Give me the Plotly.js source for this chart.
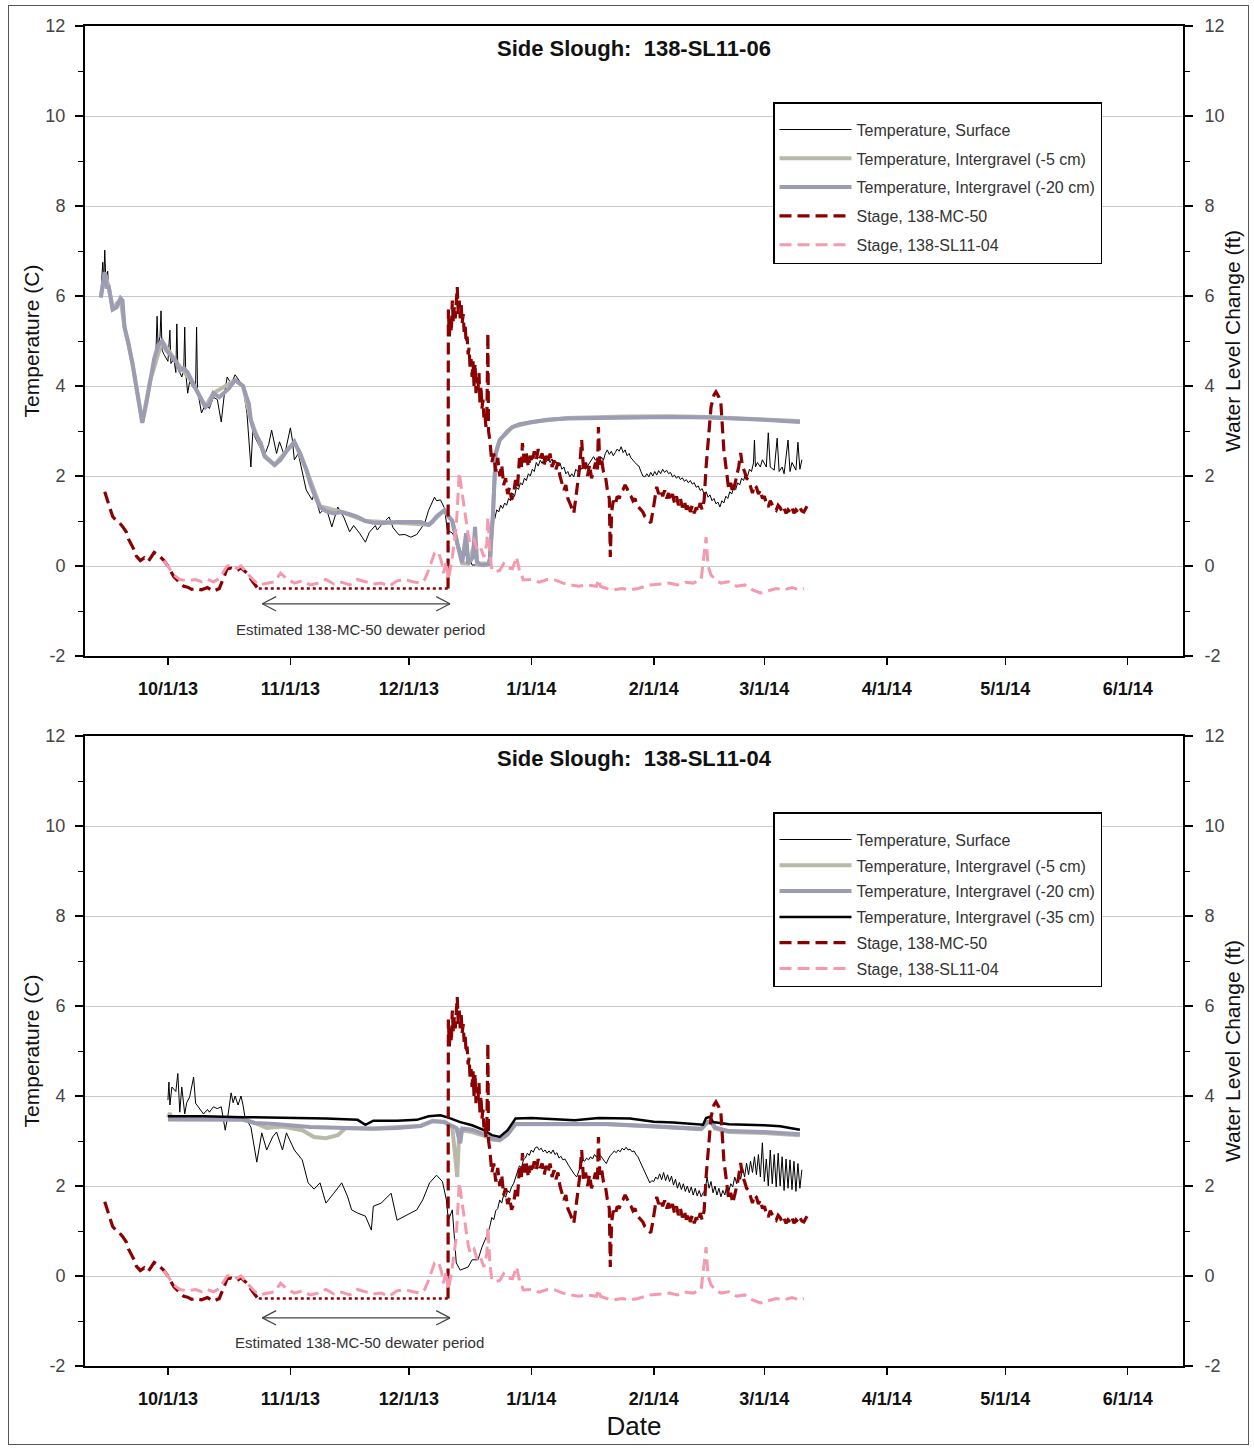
<!DOCTYPE html>
<html>
<head>
<meta charset="utf-8">
<script src="https://cdn.plot.ly/plotly-3.0.1.min.js"></script>
<style>
  html, body { margin:0; padding:0; background:#fff; }
  #wrap { position:relative; width:1254px; height:1449px; }
  #frame { position:absolute; left:8px; top:5px; width:1241px; height:1440px; border:1px solid #555; pointer-events:none; box-sizing:border-box; }
</style>
</head>
<body>
<div id="wrap"><div id="chart"></div><div id="frame"></div></div>
<script>
// ---------------- DATA ----------------
const monthTicks = ['2013-10-01','2013-11-01','2013-12-01','2014-01-01','2014-02-01','2014-03-01','2014-04-01','2014-05-01','2014-06-01'];
const monthLabels = ['10/1/13','11/1/13','12/1/13','1/1/14','2/1/14','3/1/14','4/1/14','5/1/14','6/1/14'];
const dateRange = ['2013-09-10','2014-06-15'];
const yTickVals = [-2,0,2,4,6,8,10,12];
const yTickText = ['-2','0','2','4','6','8','10','12'];
const yMinorVals = [-1,1,3,5,7,9,11];
const dewaterPeriod = ['2013-10-24','2013-12-11 10:00'];
const dewaterLevel = -0.5;

// Stage, 138-MC-50 (ft) – same record in both panels
const mc50Stage = [
 ['2013-09-15',1.65],['2013-09-16',1.35],['2013-09-16 12:00',1.2],['2013-09-17',1.1],['2013-09-18',1.0],['2013-09-18 12:00',0.98],['2013-09-19 12:00',0.88],
 ['2013-09-20 12:00',0.75],['2013-09-21',0.6],['2013-09-22 12:00',0.35],['2013-09-23',0.22],['2013-09-24',0.12],['2013-09-25',0.18],['2013-09-26',0.1],
 ['2013-09-27 12:00',0.3],['2013-09-28 12:00',0.25],['2013-09-30',0.12],['2013-10-01',0.0],['2013-10-02 12:00',-0.24],
 ['2013-10-04',-0.38],['2013-10-05',-0.45],['2013-10-06',-0.47],['2013-10-07',-0.52],['2013-10-08',-0.5],['2013-10-09 12:00',-0.53],['2013-10-11',-0.48],
 ['2013-10-12 12:00',-0.56],['2013-10-14',-0.5],['2013-10-15',-0.3],['2013-10-16',-0.06],['2013-10-17',-0.05],
 ['2013-10-18 12:00',-0.1],['2013-10-19 12:00',-0.04],['2013-10-21',-0.16],['2013-10-22 12:00',-0.35],['2013-10-23 18:00',-0.5],
 ['2013-10-24',null],
 ['2013-12-10 22:00',-0.5],['2013-12-11',5.7],['2013-12-11 06:00',5.1],['2013-12-11 12:00',5.5],['2013-12-11 18:00',5.2],
 ['2013-12-12',5.9],['2013-12-12 06:00',5.4],['2013-12-12 12:00',5.75],['2013-12-12 18:00',5.5],['2013-12-13',6.0],
 ['2013-12-13 06:00',6.2],['2013-12-13 12:00',5.6],['2013-12-13 18:00',5.9],['2013-12-14',5.5],['2013-12-14 06:00',5.8],
 ['2013-12-14 12:00',5.4],['2013-12-14 18:00',5.6],['2013-12-15',5.2],['2013-12-15 06:00',5.35],['2013-12-15 12:00',4.96],
 ['2013-12-15 18:00',5.1],['2013-12-16',4.7],['2013-12-16 06:00',4.85],['2013-12-16 12:00',4.4],['2013-12-16 18:00',4.6],
 ['2013-12-17',4.2],['2013-12-17 06:00',4.55],['2013-12-17 12:00',4.0],['2013-12-17 18:00',4.5],['2013-12-18',3.84],
 ['2013-12-18 06:00',4.2],['2013-12-18 12:00',3.9],['2013-12-18 18:00',4.29],['2013-12-19',3.6],['2013-12-19 06:00',4.0],
 ['2013-12-19 12:00',3.5],['2013-12-19 18:00',3.7],['2013-12-20',3.3],['2013-12-20 06:00',3.4],['2013-12-20 12:00',3.09],
 ['2013-12-20 18:00',3.3],['2013-12-21',5.18],['2013-12-21 04:00',3.0],['2013-12-21 12:00',2.8],
 ['2013-12-22',2.3],['2013-12-22 12:00',2.5],['2013-12-23',2.1],['2013-12-23 12:00',2.4],['2013-12-24',2.0],
 ['2013-12-24 12:00',2.25],['2013-12-25',1.8],['2013-12-25 12:00',1.95],['2013-12-26',1.6],['2013-12-26 12:00',1.75],
 ['2013-12-27',1.47],['2013-12-27 12:00',1.6],['2013-12-28',1.91],['2013-12-28 12:00',1.75],['2013-12-29',2.4],
 ['2013-12-29 12:00',2.2],['2013-12-29 18:00',2.73],['2013-12-30 06:00',2.3],['2013-12-30 18:00',2.5],['2013-12-31 06:00',2.2],
 ['2013-12-31 18:00',2.45],['2014-01-01 06:00',2.3],['2014-01-01 18:00',2.55],['2014-01-02 06:00',2.35],['2014-01-02 18:00',2.6],
 ['2014-01-03 06:00',2.4],['2014-01-03 18:00',2.5],['2014-01-04 06:00',2.25],['2014-01-04 18:00',2.45],['2014-01-05 06:00',2.3],
 ['2014-01-05 18:00',2.5],['2014-01-06 06:00',2.2],['2014-01-06 18:00',2.35],['2014-01-07 06:00',2.15],['2014-01-07 18:00',2.3],
 ['2014-01-08 06:00',2.0],['2014-01-08 18:00',1.85],['2014-01-09 06:00',1.69],['2014-01-09 18:00',1.8],['2014-01-10 06:00',1.5],
 ['2014-01-10 18:00',1.4],['2014-01-11 06:00',1.3],['2014-01-11 18:00',1.17],['2014-01-12 06:00',1.5],['2014-01-12 18:00',1.9],
 ['2014-01-13 06:00',2.2],['2014-01-13 18:00',2.8],['2014-01-14 06:00',2.1],['2014-01-14 18:00',2.3],['2014-01-15 06:00',2.0],
 ['2014-01-15 18:00',2.25],['2014-01-16 06:00',1.95],['2014-01-16 18:00',2.1],['2014-01-17 06:00',2.3],['2014-01-17 18:00',2.1],
 ['2014-01-18',3.09],['2014-01-18 08:00',2.25],['2014-01-18 18:00',2.4],['2014-01-19 06:00',2.1],['2014-01-19 18:00',2.0],
 ['2014-01-20 06:00',1.7],['2014-01-20 18:00',1.5],['2014-01-21',0.2],['2014-01-21 08:00',1.2],['2014-01-21 18:00',1.45],
 ['2014-01-22 06:00',1.35],['2014-01-22 18:00',1.55],['2014-01-23 06:00',1.5],['2014-01-23 18:00',1.65],['2014-01-24 06:00',1.7],
 ['2014-01-24 18:00',1.8],['2014-01-25 06:00',1.72],['2014-01-25 18:00',1.6],['2014-01-26 06:00',1.55],['2014-01-26 18:00',1.45],
 ['2014-01-27 06:00',1.5],['2014-01-27 18:00',1.35],['2014-01-28 06:00',1.3],['2014-01-28 18:00',1.25],['2014-01-29 06:00',1.2],
 ['2014-01-29 18:00',1.1],['2014-01-30 06:00',1.05],['2014-01-30 18:00',1.0],['2014-01-31 06:00',0.96],['2014-01-31 18:00',1.2],
 ['2014-02-01 06:00',1.5],['2014-02-01 18:00',1.76],['2014-02-02 06:00',1.6],['2014-02-02 18:00',1.7],['2014-02-03 06:00',1.55],
 ['2014-02-03 18:00',1.68],['2014-02-04 06:00',1.5],['2014-02-04 18:00',1.62],['2014-02-05 06:00',1.45],['2014-02-05 18:00',1.6],
 ['2014-02-06 06:00',1.4],['2014-02-06 18:00',1.55],['2014-02-07 06:00',1.35],['2014-02-07 18:00',1.5],['2014-02-08 06:00',1.3],
 ['2014-02-08 18:00',1.45],['2014-02-09 06:00',1.25],['2014-02-09 18:00',1.4],['2014-02-10 06:00',1.2],['2014-02-10 18:00',1.35],
 ['2014-02-11 06:00',1.17],['2014-02-11 18:00',1.3],['2014-02-12 06:00',1.2],['2014-02-12 18:00',1.4],['2014-02-13 06:00',1.25],
 ['2014-02-13 18:00',1.45],['2014-02-14 06:00',2.2],['2014-02-15',3.0],['2014-02-15 12:00',3.53],['2014-02-16 06:00',3.8],
 ['2014-02-16 18:00',3.87],['2014-02-17 12:00',3.75],['2014-02-18',3.62],['2014-02-18 18:00',2.58],['2014-02-19 12:00',2.0],
 ['2014-02-20',1.69],['2014-02-20 12:00',1.85],['2014-02-21',1.62],['2014-02-21 12:00',1.8],['2014-02-22',2.0],
 ['2014-02-22 12:00',2.2],['2014-02-23',2.51],['2014-02-23 12:00',2.2],['2014-02-24',2.1],['2014-02-24 12:00',1.95],
 ['2014-02-25',1.91],['2014-02-25 12:00',1.75],['2014-02-26',1.62],['2014-02-26 12:00',1.8],['2014-02-27',1.75],
 ['2014-02-27 12:00',1.6],['2014-02-28',1.69],['2014-02-28 12:00',1.5],['2014-03-01',1.55],['2014-03-01 12:00',1.4],
 ['2014-03-02',1.31],['2014-03-02 12:00',1.45],['2014-03-03',1.35],['2014-03-03 12:00',1.28],['2014-03-04',1.24],
 ['2014-03-04 12:00',1.35],['2014-03-05',1.3],['2014-03-05 12:00',1.2],['2014-03-06',1.28],['2014-03-06 12:00',1.17],
 ['2014-03-07',1.25],['2014-03-07 12:00',1.2],['2014-03-08',1.3],['2014-03-08 12:00',1.17],['2014-03-09',1.25],
 ['2014-03-09 12:00',1.2],['2014-03-10',1.3],['2014-03-10 12:00',1.22],['2014-03-11',1.2],['2014-03-11 12:00',1.3],
 ['2014-03-12',1.36]
];

// Stage, 138-SL11-04 (ft) – same record in both panels
const sl1104Stage = [
 ['2013-09-30',0.12],['2013-10-01',0.0],['2013-10-02 12:00',-0.2],['2013-10-04',-0.3],['2013-10-06',-0.33],
 ['2013-10-08',-0.3],['2013-10-09 12:00',-0.35],['2013-10-11',-0.3],['2013-10-12 12:00',-0.35],['2013-10-14',-0.28],
 ['2013-10-15',-0.15],['2013-10-16',0.0],['2013-10-17',0.02],['2013-10-18 12:00',-0.05],['2013-10-19 12:00',0.0],
 ['2013-10-21',-0.15],['2013-10-22 12:00',-0.3],['2013-10-24',-0.42],['2013-10-26',-0.38],['2013-10-28',-0.35],
 ['2013-10-29 12:00',-0.16],['2013-10-31',-0.28],['2013-11-02',-0.38],['2013-11-04',-0.33],['2013-11-06',-0.42],
 ['2013-11-08',-0.38],['2013-11-10',-0.3],['2013-11-12',-0.4],['2013-11-14',-0.36],['2013-11-16',-0.42],
 ['2013-11-18',-0.3],['2013-11-20',-0.35],['2013-11-22',-0.4],['2013-11-24',-0.38],['2013-11-26',-0.45],
 ['2013-11-28',-0.33],['2013-11-30',-0.3],['2013-12-02',-0.35],['2013-12-04',-0.38],['2013-12-05',-0.3],
 ['2013-12-06',-0.09],['2013-12-07 12:00',0.29],['2013-12-08 12:00',0.31],['2013-12-09 06:00',0.1],['2013-12-09 18:00',-0.16],
 ['2013-12-10 12:00',0.1],['2013-12-11',-0.31],['2013-12-12',0.2],['2013-12-13',0.87],['2013-12-13 18:00',2.07],
 ['2013-12-14 12:00',1.6],['2013-12-15 06:00',1.2],['2013-12-16',0.7],['2013-12-16 12:00',0.51],['2013-12-17 12:00',0.6],
 ['2013-12-18 06:00',0.38],['2013-12-19',0.45],['2013-12-20',0.2],['2013-12-20 18:00',0.5],['2013-12-21',1.09],
 ['2013-12-21 12:00',0.3],['2013-12-22',-0.09],['2013-12-23',-0.12],['2013-12-24',-0.1],['2013-12-25',0.05],
 ['2013-12-26',-0.05],['2013-12-27 06:00',-0.06],['2013-12-28 06:00',0.2],['2013-12-29',-0.1],['2013-12-30',-0.31],
 ['2014-01-01',-0.3],['2014-01-03',-0.36],['2014-01-05',-0.3],['2014-01-07',-0.31],['2014-01-09',-0.38],
 ['2014-01-11',-0.42],['2014-01-13',-0.45],['2014-01-15',-0.42],['2014-01-17 12:00',-0.45],['2014-01-18',-0.3],
 ['2014-01-18 12:00',-0.45],['2014-01-20',-0.5],['2014-01-22',-0.53],['2014-01-24',-0.5],['2014-01-26',-0.53],
 ['2014-01-28',-0.5],['2014-01-31',-0.42],['2014-02-03',-0.4],['2014-02-05',-0.38],['2014-02-07',-0.42],
 ['2014-02-09',-0.36],['2014-02-11',-0.38],['2014-02-13',-0.3],['2014-02-14 06:00',0.64],['2014-02-14 18:00',0.0],
 ['2014-02-15 12:00',-0.2],['2014-02-17',-0.33],['2014-02-18',-0.38],['2014-02-20',-0.35],['2014-02-22',-0.45],
 ['2014-02-24',-0.42],['2014-02-26',-0.53],['2014-02-28',-0.6],['2014-03-02',-0.55],['2014-03-04',-0.5],
 ['2014-03-06',-0.53],['2014-03-08',-0.48],['2014-03-10',-0.53],['2014-03-11',-0.5]
];

// ---- Panel 1: 138-SL11-06 temperatures (C)
const sl1106Surface = [
 ['2013-09-14',6.0],['2013-09-14 12:00',6.75],['2013-09-14 18:00',6.3],['2013-09-15',7.02],['2013-09-15 06:00',6.4],
 ['2013-09-15 18:00',6.55],['2013-09-16',6.1],['2013-09-17',5.7],['2013-09-18',5.8],['2013-09-19',5.95],
 ['2013-09-20',5.35],['2013-09-21',4.9],['2013-09-22',4.45],['2013-09-23',3.95],['2013-09-24',3.45],
 ['2013-09-24 12:00',3.2],['2013-09-25 12:00',3.65],['2013-09-26 12:00',4.15],['2013-09-27 12:00',4.65],['2013-09-28',4.85],
 ['2013-09-28 06:00',5.55],['2013-09-28 12:00',4.9],['2013-09-29',5.1],['2013-09-29 06:00',5.67],['2013-09-29 12:00',4.8],
 ['2013-09-30',4.7],['2013-10-01',4.55],['2013-10-01 12:00',5.24],['2013-10-01 18:00',4.5],['2013-10-02 12:00',4.6],
 ['2013-10-03',4.3],['2013-10-03 06:00',5.38],['2013-10-03 12:00',4.4],['2013-10-04 12:00',4.2],['2013-10-05',4.35],
 ['2013-10-05 06:00',5.31],['2013-10-05 12:00',4.3],['2013-10-06',3.84],['2013-10-06 12:00',4.1],['2013-10-07 12:00',3.95],
 ['2013-10-08',4.0],['2013-10-08 06:00',5.31],['2013-10-08 12:00',3.9],['2013-10-09',3.62],['2013-10-09 12:00',3.4],
 ['2013-10-10 12:00',3.6],['2013-10-11 12:00',3.5],['2013-10-12 12:00',3.75],['2013-10-13 12:00',3.7],['2013-10-14 12:00',3.2],
 ['2013-10-15 06:00',3.8],['2013-10-16',4.2],['2013-10-17',4.05],['2013-10-18',4.25],['2013-10-19',4.13],
 ['2013-10-20',4.0],['2013-10-21',3.4],['2013-10-22',2.2],['2013-10-22 12:00',3.0],['2013-10-23',2.87],
 ['2013-10-24 12:00',2.6],['2013-10-25 06:00',2.42],['2013-10-26 12:00',2.7],['2013-10-27 06:00',3.02],['2013-10-28 12:00',2.5],
 ['2013-10-29 06:00',2.76],['2013-10-30 12:00',2.45],['2013-11-01',3.07],['2013-11-01 12:00',2.8],['2013-11-02',2.36],
 ['2013-11-03',2.5],['2013-11-04',2.13],['2013-11-05',1.69],['2013-11-06 12:00',1.47],['2013-11-07',1.6],
 ['2013-11-08 12:00',1.17],['2013-11-10',1.31],['2013-11-11 12:00',0.87],['2013-11-13',1.31],['2013-11-14 12:00',1.09],
 ['2013-11-16',0.76],['2013-11-17',0.9],['2013-11-18 12:00',0.73],['2013-11-20',0.53],['2013-11-21',0.75],
 ['2013-11-22 12:00',0.9],['2013-11-23',0.8],['2013-11-24',0.91],['2013-11-26',1.09],['2013-11-27',0.85],
 ['2013-11-28 12:00',0.69],['2013-11-30',0.7],['2013-12-01 12:00',0.64],['2013-12-03',0.7],['2013-12-04 06:00',0.87],
 ['2013-12-05',0.95],['2013-12-06',1.24],['2013-12-07 12:00',1.53],['2013-12-08',1.45],['2013-12-09',1.47],
 ['2013-12-10',1.29],['2013-12-10 18:00',0.8],['2013-12-12',0.73],['2013-12-13',0.58],['2013-12-14 18:00',0.2],
 ['2013-12-16',0.3],['2013-12-17',0.02],['2013-12-19',0.03],['2013-12-21',0.04],['2013-12-22 06:00',1.17],
 ['2013-12-22 18:00',1.05],['2013-12-23 06:00',1.25],['2013-12-23 18:00',1.2],['2013-12-24 06:00',1.35],['2013-12-24 18:00',1.28],
 ['2013-12-25 06:00',1.4],['2013-12-25 18:00',1.35],['2013-12-26 06:00',1.5],['2013-12-26 18:00',1.45],['2013-12-27 06:00',1.62],
 ['2013-12-27 18:00',1.55],['2013-12-28 06:00',1.75],['2013-12-28 18:00',1.7],['2013-12-29 06:00',1.85],['2013-12-29 18:00',1.8],
 ['2013-12-30 06:00',1.95],['2013-12-30 18:00',1.9],['2013-12-31 06:00',2.05],['2013-12-31 18:00',2.0],['2014-01-01 06:00',2.15],
 ['2014-01-01 18:00',2.1],['2014-01-02 06:00',2.3],['2014-01-02 18:00',2.22],['2014-01-03 06:00',2.35],['2014-01-03 18:00',2.28],
 ['2014-01-04 06:00',2.4],['2014-01-04 18:00',2.32],['2014-01-05 06:00',2.36],['2014-01-05 18:00',2.3],['2014-01-06 06:00',2.38],
 ['2014-01-06 18:00',2.25],['2014-01-07 06:00',2.32],['2014-01-07 18:00',2.22],['2014-01-08 06:00',2.29],['2014-01-08 18:00',2.15],
 ['2014-01-09 06:00',2.2],['2014-01-09 18:00',2.05],['2014-01-10 06:00',2.1],['2014-01-10 18:00',1.98],['2014-01-11 06:00',2.05],
 ['2014-01-11 18:00',1.98],['2014-01-12 06:00',2.15],['2014-01-12 18:00',2.1],['2014-01-13 06:00',2.22],['2014-01-13 18:00',2.15],
 ['2014-01-14 06:00',2.25],['2014-01-14 18:00',2.15],['2014-01-15 06:00',2.22],['2014-01-15 18:00',2.3],['2014-01-16 06:00',2.38],
 ['2014-01-16 18:00',2.43],['2014-01-17 06:00',2.35],['2014-01-17 18:00',2.4],['2014-01-18 06:00',2.3],['2014-01-18 18:00',2.42],
 ['2014-01-19 06:00',2.35],['2014-01-19 18:00',2.5],['2014-01-20 06:00',2.58],['2014-01-20 18:00',2.48],['2014-01-21 06:00',2.55],
 ['2014-01-21 18:00',2.45],['2014-01-22 06:00',2.52],['2014-01-22 18:00',2.6],['2014-01-23 06:00',2.55],['2014-01-23 18:00',2.65],
 ['2014-01-24 06:00',2.52],['2014-01-24 18:00',2.58],['2014-01-25 06:00',2.45],['2014-01-25 18:00',2.5],['2014-01-26 06:00',2.4],
 ['2014-01-26 18:00',2.36],['2014-01-27 06:00',2.3],['2014-01-27 18:00',2.25],['2014-01-28 06:00',2.22],['2014-01-28 18:00',2.1],
 ['2014-01-29 06:00',2.0],['2014-01-29 18:00',1.98],['2014-01-30 06:00',2.05],['2014-01-30 18:00',1.98],['2014-01-31 06:00',2.08],
 ['2014-01-31 18:00',2.0],['2014-02-01 06:00',2.1],['2014-02-01 18:00',2.02],['2014-02-02 06:00',2.12],['2014-02-02 18:00',2.05],
 ['2014-02-03 06:00',2.15],['2014-02-03 18:00',2.08],['2014-02-04 06:00',2.13],['2014-02-04 18:00',2.05],['2014-02-05 06:00',2.08],
 ['2014-02-05 18:00',1.98],['2014-02-06 06:00',2.02],['2014-02-06 18:00',1.95],['2014-02-07 06:00',2.0],['2014-02-07 18:00',1.92],
 ['2014-02-08 06:00',1.96],['2014-02-08 18:00',1.88],['2014-02-09 06:00',1.92],['2014-02-09 18:00',1.85],['2014-02-10 06:00',1.9],
 ['2014-02-10 18:00',1.82],['2014-02-11 06:00',1.85],['2014-02-11 18:00',1.75],['2014-02-12 06:00',1.78],['2014-02-12 18:00',1.68],
 ['2014-02-13 06:00',1.72],['2014-02-13 18:00',1.6],['2014-02-14 06:00',1.65],['2014-02-14 18:00',1.53],['2014-02-15 06:00',1.58],
 ['2014-02-15 18:00',1.45],['2014-02-16 06:00',1.5],['2014-02-16 18:00',1.38],['2014-02-17 06:00',1.42],['2014-02-17 18:00',1.31],
 ['2014-02-18 06:00',1.45],['2014-02-18 18:00',1.4],['2014-02-19 06:00',1.55],['2014-02-19 18:00',1.5],['2014-02-20 06:00',1.65],
 ['2014-02-20 18:00',1.6],['2014-02-21 06:00',1.75],['2014-02-21 18:00',1.7],['2014-02-22 06:00',1.85],['2014-02-22 18:00',1.8],
 ['2014-02-23 06:00',1.95],['2014-02-23 18:00',1.9],['2014-02-24 06:00',2.05],['2014-02-24 18:00',2.0],['2014-02-25 06:00',2.15],
 ['2014-02-25 18:00',2.1],['2014-02-26 06:00',2.29],['2014-02-26 12:00',2.8],['2014-02-26 18:00',2.2],['2014-02-27 06:00',2.3],
 ['2014-02-28',2.2],['2014-02-28 12:00',2.36],['2014-03-01 12:00',2.2],['2014-03-02',2.96],['2014-03-02 12:00',2.2],
 ['2014-03-03 12:00',2.13],['2014-03-04 06:00',2.84],['2014-03-04 18:00',2.1],['2014-03-05 12:00',2.2],['2014-03-06',2.05],
 ['2014-03-07',2.8],['2014-03-07 12:00',2.1],['2014-03-08',2.3],['2014-03-09',2.13],['2014-03-09 12:00',2.75],
 ['2014-03-10',2.15],['2014-03-10 12:00',2.36]
];
const sl1106Ig5 = [
 ['2013-09-14',5.98],['2013-09-15',6.5],['2013-09-16',6.22],['2013-09-17',5.72],['2013-09-19',5.93],
 ['2013-09-20',5.32],['2013-09-22',4.52],['2013-09-24 12:00',3.2],['2013-09-26 12:00',4.12],['2013-09-29 12:00',5.0],
 ['2013-10-03',4.55],['2013-10-07',4.1],['2013-10-10 12:00',3.55],['2013-10-12 12:00',3.84],['2013-10-18',4.13],
 ['2013-10-20',4.0],['2013-10-22',3.24],['2013-10-25 12:00',2.45],['2013-10-28',2.25],['2013-11-02',2.76],
 ['2013-11-05',2.15],['2013-11-08 12:00',1.33],['2013-11-14',1.2],['2013-11-20',1.0],['2013-11-26',0.97],
 ['2013-12-06',0.92],['2013-12-10',1.24],['2013-12-12',1.0],['2013-12-13 06:00',0.5],['2013-12-14 12:00',0.06],
 ['2013-12-16',0.05],['2013-12-17 18:00',0.5],['2013-12-18 06:00',0.06],['2013-12-21 12:00',0.05],['2013-12-22 06:00',1.09],
 ['2013-12-23',2.51],['2013-12-24',2.8],['2013-12-27 06:00',3.09],['2014-01-01',3.2],['2014-01-10',3.29],
 ['2014-01-25',3.32],['2014-02-05',3.33],['2014-02-15',3.31],['2014-02-25',3.28],['2014-03-10',3.22]
];
const sl1106Ig20 = [
 ['2013-09-14',5.96],['2013-09-15',6.53],['2013-09-15 12:00',6.2],['2013-09-16',6.2],['2013-09-17',5.7],
 ['2013-09-18',5.75],['2013-09-19',5.95],['2013-09-19 12:00',5.9],['2013-09-20',5.3],['2013-09-21',4.95],
 ['2013-09-22',4.5],['2013-09-23',4.0],['2013-09-24',3.5],['2013-09-24 12:00',3.18],['2013-09-25 12:00',3.6],
 ['2013-09-26 12:00',4.1],['2013-09-27 12:00',4.6],['2013-09-28 12:00',4.9],['2013-09-29 12:00',5.0],['2013-09-30 12:00',4.8],
 ['2013-10-02',4.65],['2013-10-03',4.55],['2013-10-04',4.35],['2013-10-05',4.4],['2013-10-06',4.3],
 ['2013-10-07',4.1],['2013-10-08',3.95],['2013-10-09 12:00',3.69],['2013-10-10 12:00',3.53],['2013-10-11 12:00',3.6],
 ['2013-10-12 12:00',3.84],['2013-10-14',3.75],['2013-10-15 12:00',3.87],['2013-10-16 12:00',3.95],['2013-10-18',4.13],
 ['2013-10-19 12:00',4.05],['2013-10-20',4.0],['2013-10-21 12:00',3.6],['2013-10-22',3.24],['2013-10-23',2.95],
 ['2013-10-24 12:00',2.73],['2013-10-25 12:00',2.43],['2013-10-27',2.3],['2013-10-28',2.24],['2013-10-29 12:00',2.36],
 ['2013-10-31',2.55],['2013-11-01 12:00',2.7],['2013-11-02',2.76],['2013-11-03 12:00',2.5],['2013-11-05',2.15],
 ['2013-11-06',1.84],['2013-11-07',1.6],['2013-11-08 12:00',1.31],['2013-11-10',1.22],['2013-11-12',1.17],
 ['2013-11-14',1.2],['2013-11-16',1.15],['2013-11-18',1.09],['2013-11-20',1.0],['2013-11-22',0.96],
 ['2013-11-24',0.95],['2013-11-26',0.97],['2013-11-28',0.98],['2013-12-01',0.98],['2013-12-04',0.98],
 ['2013-12-06',0.91],['2013-12-07',0.98],['2013-12-08',1.1],['2013-12-09',1.17],['2013-12-10',1.24],
 ['2013-12-11',1.1],['2013-12-12',1.0],['2013-12-13 06:00',0.51],['2013-12-14',0.2],['2013-12-14 12:00',0.07],
 ['2013-12-15 12:00',0.73],['2013-12-16',0.05],['2013-12-17 06:00',0.2],['2013-12-17 18:00',0.87],['2013-12-18 06:00',0.1],
 ['2013-12-19',0.03],['2013-12-20',0.02],['2013-12-21',0.03],['2013-12-21 12:00',0.05],['2013-12-21 20:00',0.6],
 ['2013-12-22 06:00',1.09],['2013-12-23',2.51],['2013-12-24',2.8],['2013-12-26',3.0],['2013-12-27 06:00',3.09],
 ['2013-12-29',3.15],['2014-01-01',3.2],['2014-01-05',3.25],['2014-01-10',3.28],['2014-01-15',3.29],
 ['2014-01-25',3.3],['2014-02-05',3.31],['2014-02-15',3.3],['2014-02-25',3.27],['2014-03-03',3.24],['2014-03-10',3.2]
];

// ---- Panel 2: 138-SL11-04 temperatures (C)
const sl1104Surface = [
 ['2013-10-01',3.91],['2013-10-01 06:00',4.31],['2013-10-01 12:00',3.8],['2013-10-02',4.2],['2013-10-03',4.1],
 ['2013-10-03 12:00',4.5],['2013-10-04',3.64],['2013-10-04 12:00',4.2],['2013-10-05 06:00',3.6],['2013-10-05 18:00',3.85],
 ['2013-10-06 12:00',3.98],['2013-10-07 12:00',4.42],['2013-10-08',3.84],['2013-10-09 12:00',3.64],['2013-10-10',3.6],
 ['2013-10-11',3.7],['2013-10-11 12:00',3.64],['2013-10-12 12:00',3.76],['2013-10-13 12:00',3.72],['2013-10-14 12:00',3.76],
 ['2013-10-15 12:00',3.24],['2013-10-16 06:00',3.6],['2013-10-17',4.07],['2013-10-17 12:00',3.85],['2013-10-18',4.0],
 ['2013-10-18 18:00',3.8],['2013-10-19 12:00',4.0],['2013-10-20',3.8],['2013-10-20 12:00',3.53],['2013-10-22',3.31],
 ['2013-10-23',2.8],['2013-10-23 12:00',2.53],['2013-10-24 18:00',3.18],['2013-10-26',2.8],['2013-10-27 12:00',3.09],
 ['2013-10-28 12:00',3.2],['2013-10-30',2.8],['2013-10-31',3.18],['2013-11-02',2.8],['2013-11-04',2.58],
 ['2013-11-05 12:00',2.07],['2013-11-07',1.93],['2013-11-08 12:00',2.07],['2013-11-10',1.62],['2013-11-12',1.84],
 ['2013-11-14',2.07],['2013-11-15 12:00',1.76],['2013-11-16 12:00',1.47],['2013-11-18',1.4],['2013-11-20',1.33],
 ['2013-11-21 12:00',1.02],['2013-11-22',1.55],['2013-11-24',1.62],['2013-11-26 12:00',1.84],['2013-11-28',1.24],
 ['2013-11-30',1.33],['2013-12-03',1.47],['2013-12-04 12:00',1.69],['2013-12-06 06:00',2.07],['2013-12-08',2.24],
 ['2013-12-09 12:00',2.1],['2013-12-10 12:00',1.69],['2013-12-11',1.24],['2013-12-12',1.47],['2013-12-13',0.29],
 ['2013-12-14',0.13],['2013-12-16',0.2],['2013-12-17',0.36],['2013-12-18 12:00',0.36],['2013-12-19 12:00',0.64],
 ['2013-12-21',0.95],['2013-12-21 12:00',1.1],['2013-12-22',1.3],['2013-12-22 12:00',1.25],['2013-12-23',1.45],
 ['2013-12-23 12:00',1.5],['2013-12-24',1.69],['2013-12-24 12:00',1.62],['2013-12-25',1.8],['2013-12-25 12:00',1.75],
 ['2013-12-26',1.9],['2013-12-26 12:00',1.85],['2013-12-27',1.98],['2013-12-27 12:00',2.05],['2013-12-28',2.2],
 ['2013-12-28 12:00',2.3],['2013-12-29',2.45],['2013-12-29 12:00',2.4],['2013-12-30',2.58],['2013-12-30 12:00',2.62],
 ['2013-12-31',2.73],['2013-12-31 12:00',2.68],['2014-01-01',2.8],['2014-01-01 12:00',2.75],['2014-01-02',2.85],
 ['2014-01-02 12:00',2.87],['2014-01-03',2.8],['2014-01-03 12:00',2.84],['2014-01-04',2.76],['2014-01-04 12:00',2.8],
 ['2014-01-05',2.73],['2014-01-05 12:00',2.78],['2014-01-06',2.72],['2014-01-06 12:00',2.8],['2014-01-07',2.7],
 ['2014-01-07 12:00',2.74],['2014-01-08',2.62],['2014-01-08 12:00',2.66],['2014-01-09',2.58],['2014-01-09 12:00',2.6],
 ['2014-01-10',2.51],['2014-01-10 12:00',2.45],['2014-01-11',2.38],['2014-01-11 12:00',2.3],['2014-01-12',2.25],
 ['2014-01-12 12:00',2.2],['2014-01-13',2.35],['2014-01-13 12:00',2.45],['2014-01-14',2.58],['2014-01-14 12:00',2.55],
 ['2014-01-15',2.62],['2014-01-15 12:00',2.58],['2014-01-16',2.65],['2014-01-16 12:00',2.6],['2014-01-17',2.7],
 ['2014-01-17 12:00',2.64],['2014-01-18',2.73],['2014-01-18 12:00',2.68],['2014-01-19',2.62],['2014-01-19 12:00',2.55],
 ['2014-01-20',2.5],['2014-01-20 12:00',2.6],['2014-01-21',2.68],['2014-01-21 12:00',2.72],['2014-01-22',2.78],
 ['2014-01-22 12:00',2.74],['2014-01-23',2.8],['2014-01-23 12:00',2.76],['2014-01-24',2.84],['2014-01-24 12:00',2.8],
 ['2014-01-25',2.86],['2014-01-25 12:00',2.8],['2014-01-26',2.82],['2014-01-26 12:00',2.76],['2014-01-27',2.78],
 ['2014-01-27 12:00',2.7],['2014-01-28',2.65],['2014-01-28 12:00',2.55],['2014-01-29',2.45],['2014-01-29 12:00',2.36],
 ['2014-01-30',2.25],['2014-01-30 12:00',2.15],['2014-01-31',2.07],['2014-01-31 12:00',2.12],['2014-02-01',2.1],
 ['2014-02-01 12:00',2.2],['2014-02-02',2.15],['2014-02-02 12:00',2.27],['2014-02-03',2.14],['2014-02-03 12:00',2.3],
 ['2014-02-04',2.12],['2014-02-04 12:00',2.25],['2014-02-05',2.1],['2014-02-05 12:00',2.22],['2014-02-06',2.02],
 ['2014-02-06 12:00',2.15],['2014-02-07',1.95],['2014-02-07 12:00',2.08],['2014-02-08',1.92],['2014-02-08 12:00',2.05],
 ['2014-02-09',1.88],['2014-02-09 12:00',2.0],['2014-02-10',1.85],['2014-02-10 12:00',1.98],['2014-02-11',1.8],
 ['2014-02-11 12:00',1.95],['2014-02-12',1.78],['2014-02-12 12:00',1.9],['2014-02-13',1.76],['2014-02-13 12:00',1.85],
 ['2014-02-14',1.9],['2014-02-14 12:00',2.2],['2014-02-15',1.95],['2014-02-15 12:00',2.1],['2014-02-16',1.85],
 ['2014-02-16 12:00',2.0],['2014-02-17',1.8],['2014-02-17 12:00',1.95],['2014-02-18',1.76],['2014-02-18 12:00',1.9],
 ['2014-02-19',1.8],['2014-02-19 12:00',2.0],['2014-02-20',1.88],['2014-02-20 12:00',2.05],['2014-02-21',1.98],
 ['2014-02-21 12:00',2.2],['2014-02-22',2.05],['2014-02-22 12:00',2.3],['2014-02-23',2.15],['2014-02-23 12:00',2.4],
 ['2014-02-24',2.2],['2014-02-24 12:00',2.51],['2014-02-25',2.25],['2014-02-25 12:00',2.55],['2014-02-26',2.3],
 ['2014-02-26 12:00',2.65],['2014-02-27',2.25],['2014-02-27 12:00',2.7],['2014-02-28',2.2],['2014-02-28 12:00',2.96],
 ['2014-03-01',2.1],['2014-03-01 12:00',2.6],['2014-03-02',2.0],['2014-03-02 12:00',2.8],['2014-03-03',2.05],
 ['2014-03-03 12:00',2.7],['2014-03-04',1.98],['2014-03-04 12:00',2.73],['2014-03-05',2.0],['2014-03-05 12:00',2.65],
 ['2014-03-06',1.9],['2014-03-06 12:00',2.6],['2014-03-07',1.95],['2014-03-07 12:00',2.58],['2014-03-08',1.92],
 ['2014-03-08 12:00',2.55],['2014-03-09',1.88],['2014-03-09 12:00',2.5],['2014-03-10',1.95],['2014-03-10 12:00',2.36]
];
const sl1104Ig5 = [
 ['2013-10-01',3.52],['2013-10-01 12:00',3.62],['2013-10-02',3.5],['2013-10-20',3.5],['2013-10-23',3.4],
 ['2013-10-26',3.29],['2013-10-30',3.32],['2013-11-04',3.24],['2013-11-07',3.09],['2013-11-10',3.06],
 ['2013-11-13',3.13],['2013-11-15',3.29],['2013-11-22',3.28],['2013-11-28',3.3],['2013-12-04',3.34],
 ['2013-12-07',3.45],['2013-12-10',3.43],['2013-12-12',3.3],['2013-12-13 06:00',2.2],['2013-12-13 18:00',3.25],
 ['2013-12-17',3.2],['2013-12-20',3.12],['2013-12-22',3.03],['2013-12-24',3.02],['2013-12-26',3.15],
 ['2013-12-28',3.37],['2014-01-10',3.36],['2014-01-20',3.37],['2014-02-01',3.32],['2014-02-13',3.26],
 ['2014-02-14 12:00',3.4],['2014-02-15 12:00',3.43],['2014-02-16 12:00',3.28],['2014-02-20',3.2],['2014-03-01',3.18],
 ['2014-03-10',3.13]
];
const sl1104Ig20 = [
 ['2013-10-01',3.48],['2013-10-20',3.47],['2013-10-23',3.4],['2013-10-28',3.38],['2013-11-06',3.31],
 ['2013-11-15',3.29],['2013-11-22',3.27],['2013-11-28',3.29],['2013-12-04',3.33],['2013-12-07',3.44],
 ['2013-12-10',3.42],['2013-12-13',3.29],['2013-12-14',2.95],['2013-12-14 12:00',3.28],['2013-12-17',3.25],
 ['2013-12-20',3.15],['2013-12-22',3.05],['2013-12-24',3.02],['2013-12-26',3.15],['2013-12-28',3.38],
 ['2014-01-10',3.37],['2014-01-20',3.38],['2014-02-01',3.33],['2014-02-13',3.27],['2014-02-14 12:00',3.42],
 ['2014-02-15 12:00',3.45],['2014-02-16 12:00',3.3],['2014-02-20',3.22],['2014-03-01',3.2],['2014-03-10',3.15]
];
const sl1104Ig35 = [
 ['2013-10-01',3.55],['2013-10-10',3.55],['2013-10-20',3.53],['2013-10-30',3.52],['2013-11-10',3.5],
 ['2013-11-18',3.47],['2013-11-20',3.36],['2013-11-22',3.45],['2013-11-28',3.45],['2013-12-03',3.47],
 ['2013-12-06',3.55],['2013-12-09',3.57],['2013-12-11',3.52],['2013-12-14',3.42],['2013-12-17',3.35],
 ['2013-12-20',3.24],['2013-12-22',3.13],['2013-12-24',3.09],['2013-12-26',3.24],['2013-12-28',3.5],
 ['2014-01-01',3.51],['2014-01-12',3.46],['2014-01-18',3.51],['2014-01-26',3.5],['2014-02-01',3.43],
 ['2014-02-06',3.41],['2014-02-12',3.37],['2014-02-13 12:00',3.36],['2014-02-14 06:00',3.51],['2014-02-15 06:00',3.54],
 ['2014-02-16',3.42],['2014-02-20',3.37],['2014-03-01',3.35],['2014-03-05',3.33],['2014-03-10',3.25]
];

const panelTitles = ['Side Slough:\u00a0 138-SL11-06', 'Side Slough:\u00a0 138-SL11-04'];
const noteText = 'Estimated 138-MC-50 dewater period';

// ---------------- STYLE ----------------
const FONT = '"Liberation Sans Narrow", "Arial Narrow", "Liberation Sans", Arial, sans-serif';
const C_SURF = '#000000', C_IG5 = '#b9b9aa', C_IG20 = '#9c9cb2', C_IG35 = '#000000';
const C_MC = '#8b0000', C_SL = '#f59aae';
const DASH = '12px,6px';

const X = a => a.map(p => p[0]);
const Y = a => a.map(p => p[1]);

let gid = 0;
function tempTrace(arr, name, color, width, xa, ya, lg) {
  return {x: X(arr), y: Y(arr), name, type:'scatter', mode:'lines', xaxis:xa, yaxis:ya, legend:lg,
          legendgroup:'g' + (gid++), line:{color, width}, connectgaps:false};
}
function stageTrace(arr, name, color, width, xa, ya, lg) {
  return {x: X(arr), y: Y(arr), name, type:'scatter', mode:'lines', xaxis:xa, yaxis:ya, legend:lg,
          legendgroup:'g' + (gid++), line:{color, width, dash:DASH}, connectgaps:false};
}
function dewaterTrace(xa, ya) {
  return {x: dewaterPeriod, y: [dewaterLevel, dewaterLevel], type:'scatter', mode:'lines', xaxis:xa, yaxis:ya,
          showlegend:false, line:{color:C_MC, width:2.5, dash:'dot'}};
}

const traces = [
  tempTrace(sl1106Surface, 'Temperature, Surface', C_SURF, 1, 'x', 'y', 'legend'),
  tempTrace(sl1106Ig5, 'Temperature, Intergravel (-5 cm)', C_IG5, 4, 'x', 'y', 'legend'),
  tempTrace(sl1106Ig20, 'Temperature, Intergravel (-20 cm)', C_IG20, 4, 'x', 'y', 'legend'),
  stageTrace(mc50Stage, 'Stage, 138-MC-50', C_MC, 3.2, 'x', 'y2', 'legend'),
  stageTrace(sl1104Stage, 'Stage, 138-SL11-04', C_SL, 3, 'x', 'y2', 'legend'),
  dewaterTrace('x', 'y2'),

  tempTrace(sl1104Surface, 'Temperature, Surface', C_SURF, 1, 'x2', 'y3', 'legend2'),
  tempTrace(sl1104Ig5, 'Temperature, Intergravel (-5 cm)', C_IG5, 4, 'x2', 'y3', 'legend2'),
  tempTrace(sl1104Ig20, 'Temperature, Intergravel (-20 cm)', C_IG20, 4, 'x2', 'y3', 'legend2'),
  tempTrace(sl1104Ig35, 'Temperature, Intergravel (-35 cm)', C_IG35, 2.5, 'x2', 'y3', 'legend2'),
  stageTrace(mc50Stage, 'Stage, 138-MC-50', C_MC, 3.2, 'x2', 'y4', 'legend2'),
  stageTrace(sl1104Stage, 'Stage, 138-SL11-04', C_SL, 3, 'x2', 'y4', 'legend2'),
  dewaterTrace('x2', 'y4')
];

// geometry
const ML = 85, MR = 71, MT = 26, MB = 83, FIG_H = 1449;
const PH = FIG_H - MT - MB;
const panelH = 630;
const topDom = [(PH - panelH) / PH, 1];
const botDom = [0, panelH / PH];
const py = px => (FIG_H - MB - px) / PH;

function xAxis(anchor, extra) {
  return Object.assign({
    type:'date', anchor, domain:[0,1], range:dateRange,
    tickmode:'array', tickvals:monthTicks, ticktext:monthLabels, ticks:'outside', ticklen:7, tickwidth:1.5, tickcolor:'#000',
    ticklabelstandoff:8,
    showline:true, linecolor:'#000', linewidth:2, mirror:true, showgrid:false, zeroline:false,
    tickfont:{family:FONT, size:18, color:'#111', weight:'bold'}
  }, extra || {});
}
function yAxis(anchor, domain, side, overlay, titleText) {
  const ax = {
    anchor, range:[-2,12], tickmode:'array', tickvals:yTickVals, ticktext:yTickText,
    ticks:'outside', ticklen:8, tickwidth:1.5, tickcolor:'#000',
    ticklabelstandoff: side === 'left' ? 6 : 8,
    showline:true, linecolor:'#000', linewidth:2, zeroline:false,
    showgrid: side === 'left', gridcolor:'#c9c9c9', gridwidth:1,
    minor:{tickmode:'array', tickvals:yMinorVals, ticks:'outside', ticklen:5, tickcolor:'#000', tickwidth:1, showgrid:false},
    tickfont:{family:FONT, size:18, color:'#444'},
    title:{text:titleText, font:{family:FONT, size:21, color:'#111'}, standoff: side === 'left' ? 0 : 2},
    side
  };
  if (domain) ax.domain = domain;
  if (overlay) ax.overlaying = overlay;
  return ax;
}

function arrowShapes(xref, yref, yv) {
  const d0 = new Date(dewaterPeriod[0] + 'T00:00:00Z').getTime() + 0.9 * 864e5;
  const d1 = new Date(dewaterPeriod[1].replace(' ', 'T') + ':00Z').getTime();
  const head = 3.5 * 864e5, hh = 0.16;
  const iso = t => new Date(t).toISOString().slice(0,19).replace('T',' ');
  const base = {type:'line', xref, yref, line:{color:'#444', width:1.2}};
  return [
    Object.assign({x0:iso(d0), x1:iso(d1), y0:yv, y1:yv}, base),
    Object.assign({x0:iso(d0), x1:iso(d0+head), y0:yv, y1:yv+hh}, base),
    Object.assign({x0:iso(d0), x1:iso(d0+head), y0:yv, y1:yv-hh}, base),
    Object.assign({x0:iso(d1), x1:iso(d1-head), y0:yv, y1:yv+hh}, base),
    Object.assign({x0:iso(d1), x1:iso(d1-head), y0:yv, y1:yv-hh}, base)
  ];
}

const legendBase = {
  xref:'paper', yref:'paper', xanchor:'left', yanchor:'top', x:(773 - ML) / (1254 - ML - MR),
  bgcolor:'#fff', bordercolor:'#000', borderwidth:1.5,
  font:{family:FONT, size:16, color:'#333'}, itemwidth:72,
  title:{text:'\u00a0', font:{size:7}}
};

const layout = {
  width:1254, height:FIG_H,
  margin:{l:ML, r:MR, t:MT, b:MB, pad:0},
  paper_bgcolor:'#fff', plot_bgcolor:'#fff',
  font:{family:FONT, color:'#333'},
  hovermode:false,
  xaxis: xAxis('y'),
  xaxis2: xAxis('y3', {title:{text:'Date', font:{family:FONT, size:26, color:'#111'}, standoff:9}}),
  yaxis: yAxis('x', topDom, 'left', null, 'Temperature (C)'),
  yaxis2: yAxis('x', null, 'right', 'y', 'Water Level Change (ft)'),
  yaxis3: yAxis('x2', botDom, 'left', null, 'Temperature (C)'),
  yaxis4: yAxis('x2', null, 'right', 'y3', 'Water Level Change (ft)'),
  legend: Object.assign({}, legendBase, {y: py(102), tracegroupgap:5}),
  legend2: Object.assign({}, legendBase, {y: py(812), tracegroupgap:2}),
  annotations: [
    {text:'<b>' + panelTitles[0] + '</b>', xref:'paper', yref:'paper', x:0.5, y:py(48), xanchor:'center', yanchor:'middle',
     showarrow:false, font:{family:FONT, size:22, color:'#111'}},
    {text:'<b>' + panelTitles[1] + '</b>', xref:'paper', yref:'paper', x:0.5, y:py(758), xanchor:'center', yanchor:'middle',
     showarrow:false, font:{family:FONT, size:22, color:'#111'}},
    {text:noteText, xref:'x', yref:'y', x:'2013-11-18 18:00', y:-1.42, showarrow:false, xanchor:'center', yanchor:'middle',
     font:{family:FONT, size:15, color:'#333'}},
    {text:noteText, xref:'x2', yref:'y3', x:'2013-11-18 12:00', y:-1.47, showarrow:false, xanchor:'center', yanchor:'middle',
     font:{family:FONT, size:15, color:'#333'}}
  ],
  shapes: [].concat(arrowShapes('x', 'y', -0.84), arrowShapes('x2', 'y3', -0.93))
};

Plotly.newPlot('chart', traces, layout, {displayModeBar:false, staticPlot:true});
</script>
</body>
</html>
